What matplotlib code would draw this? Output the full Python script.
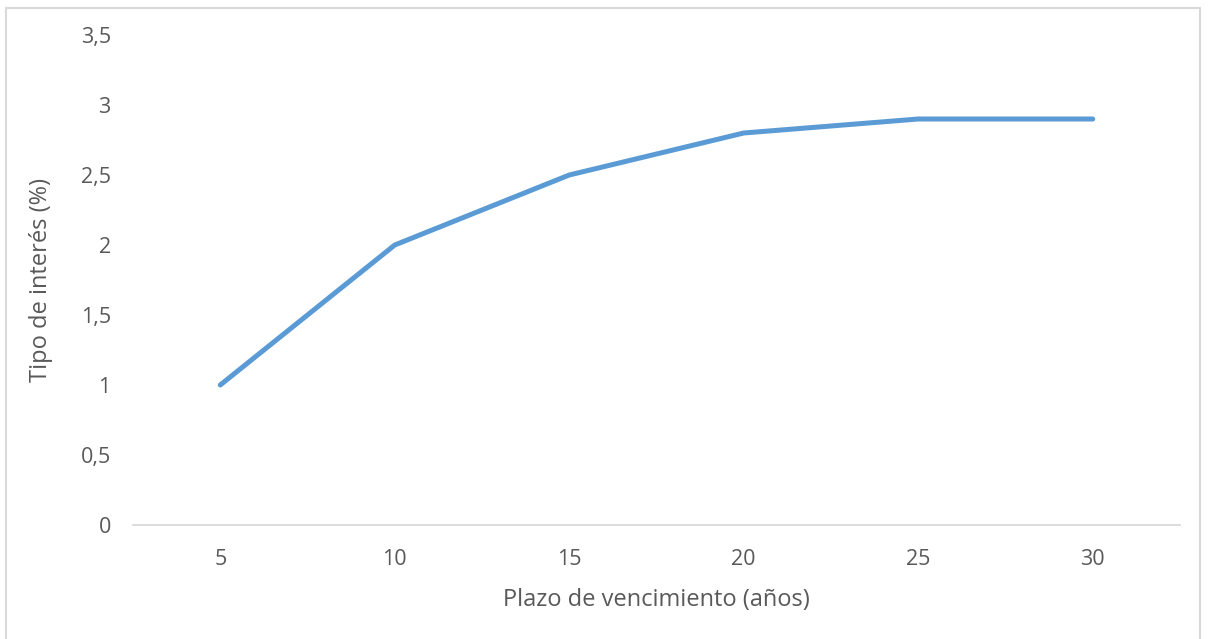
import matplotlib
matplotlib.use("Agg")
import matplotlib.pyplot as plt
from matplotlib.patches import Rectangle

# Curva de tipos: plazo (años) frente a tipo de interés (%)
plazos = ["5", "10", "15", "20", "25", "30"]
tipos = [1.0, 2.0, 2.5, 2.8, 2.9, 2.9]
y_ticks = [0, 0.5, 1, 1.5, 2, 2.5, 3, 3.5]
y_labels = ["0", "0,5", "1", "1,5", "2", "2,5", "3", "3,5"]

plt.rcParams['font.family'] = ['Open Sans', 'DejaVu Sans']
texto = '#595959'

fig = plt.figure(figsize=(12.08, 6.39), dpi=100)
ax = fig.add_axes([133 / 1208, 114 / 639, 1047 / 1208, 490 / 639])

# marco exterior del gráfico
fig.patches.append(Rectangle((6 / 1208, -0.01), 1194 / 1208, 1 - 8 / 639 + 0.01,
                             transform=fig.transFigure, fill=False,
                             edgecolor='#D9D9D9', linewidth=1.5))

x = list(range(len(plazos)))
ax.plot(x, tipos, color='#5B9BD5', linewidth=3.6, solid_capstyle='round',
        solid_joinstyle='round')

ax.set_xlim(-0.5, len(plazos) - 0.5)
ax.set_ylim(0, 3.5)
ax.set_xticks(x)
ax.set_xticklabels(plazos)
ax.set_yticks(y_ticks)
ax.set_yticklabels(y_labels)

for s in ['top', 'right', 'left']:
    ax.spines[s].set_visible(False)
ax.spines['bottom'].set_color('#D9D9D9')
ax.spines['bottom'].set_linewidth(1.3)

ax.tick_params(axis='both', length=0, labelsize=15.5, colors=texto)
ax.tick_params(axis='x', pad=17)
ax.tick_params(axis='y', pad=16)

ax.set_xlabel('Plazo de vencimiento (años)', fontsize=17, color=texto, labelpad=13)
ax.set_ylabel('Tipo de interés (%)', fontsize=17, color=texto, labelpad=20)

fig.savefig('out.png', dpi=100)
